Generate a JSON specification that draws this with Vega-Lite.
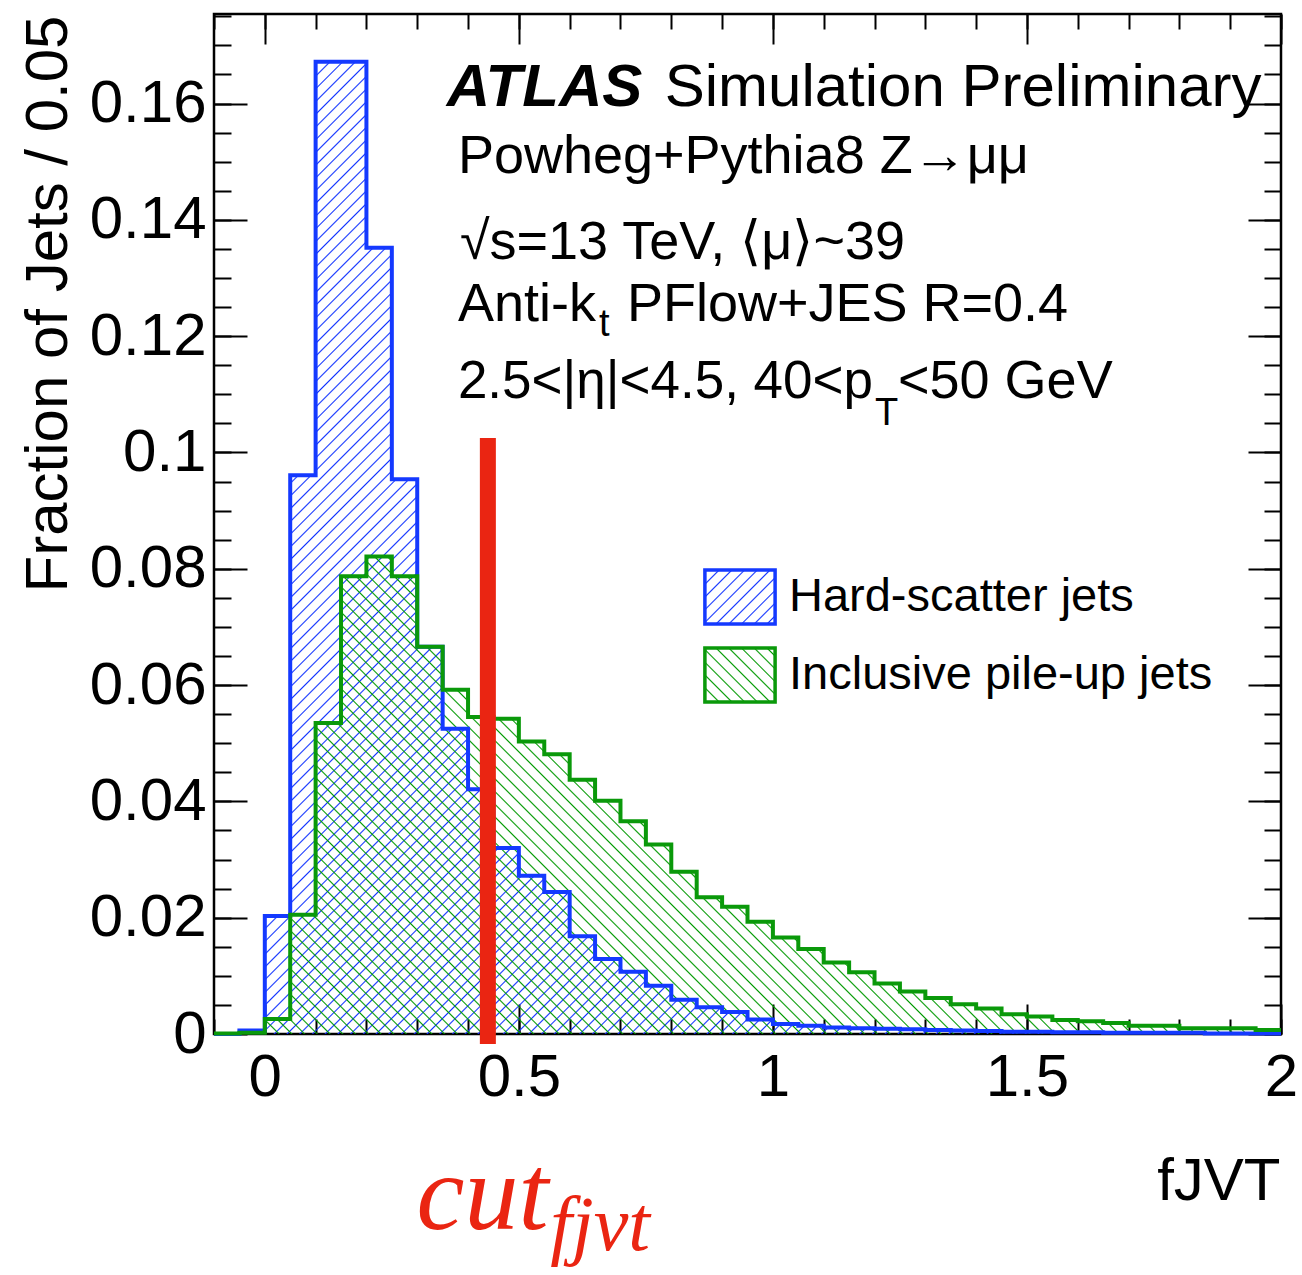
{
"$schema": "https://vega.github.io/schema/vega-lite/v6.json",
"autosize": {"type": "none"},
"padding": {"left": 214, "top": 14, "right": 21, "bottom": 241},
"width": 1067,
"height": 1020,
"background": "white",
"data": {"values": [
{"s":"hs","x":-0.1,"v":0},{"s":"hs","x":-0.05,"v":0.0006},{"s":"hs","x":0,"v":0.0203},{"s":"hs","x":0.05,"v":0.0961},{"s":"hs","x":0.1,"v":0.1672},{"s":"hs","x":0.15,"v":0.1672},{"s":"hs","x":0.2,"v":0.1352},{"s":"hs","x":0.25,"v":0.0954},{"s":"hs","x":0.3,"v":0.0666},{"s":"hs","x":0.35,"v":0.0525},{"s":"hs","x":0.4,"v":0.0421},{"s":"hs","x":0.45,"v":0.032},{"s":"hs","x":0.5,"v":0.0272},{"s":"hs","x":0.55,"v":0.0244},{"s":"hs","x":0.6,"v":0.0168},{"s":"hs","x":0.65,"v":0.0129},{"s":"hs","x":0.7,"v":0.0107},{"s":"hs","x":0.75,"v":0.0083},{"s":"hs","x":0.8,"v":0.0059},{"s":"hs","x":0.85,"v":0.0046},{"s":"hs","x":0.9,"v":0.0038},{"s":"hs","x":0.95,"v":0.0025},{"s":"hs","x":1,"v":0.0017},{"s":"hs","x":1.05,"v":0.0014},{"s":"hs","x":1.1,"v":0.0011},{"s":"hs","x":1.15,"v":0.001},{"s":"hs","x":1.2,"v":0.0009},{"s":"hs","x":1.25,"v":0.0008},{"s":"hs","x":1.3,"v":0.0007},{"s":"hs","x":1.35,"v":0.0006},{"s":"hs","x":1.4,"v":0.0005},{"s":"hs","x":1.45,"v":0.0004},{"s":"hs","x":1.5,"v":0.0004},{"s":"hs","x":1.55,"v":0.0003},{"s":"hs","x":1.6,"v":0.0003},{"s":"hs","x":1.65,"v":0.0002},{"s":"hs","x":1.7,"v":0.0002},{"s":"hs","x":1.75,"v":0.0002},{"s":"hs","x":1.8,"v":0.0002},{"s":"hs","x":1.85,"v":0.0001},{"s":"hs","x":1.9,"v":0.0001},{"s":"hs","x":1.95,"v":0.0001},{"s":"hs","x":2,"v":0.0001},
{"s":"pu","x":-0.1,"v":0.0001},{"s":"pu","x":-0.05,"v":0.0002},{"s":"pu","x":0,"v":0.0026},{"s":"pu","x":0.05,"v":0.0205},{"s":"pu","x":0.1,"v":0.0535},{"s":"pu","x":0.15,"v":0.0787},{"s":"pu","x":0.2,"v":0.0821},{"s":"pu","x":0.25,"v":0.0787},{"s":"pu","x":0.3,"v":0.0666},{"s":"pu","x":0.35,"v":0.0592},{"s":"pu","x":0.4,"v":0.0545},{"s":"pu","x":0.45,"v":0.0542},{"s":"pu","x":0.5,"v":0.0503},{"s":"pu","x":0.55,"v":0.0481},{"s":"pu","x":0.6,"v":0.0437},{"s":"pu","x":0.65,"v":0.0401},{"s":"pu","x":0.7,"v":0.0366},{"s":"pu","x":0.75,"v":0.0326},{"s":"pu","x":0.8,"v":0.0279},{"s":"pu","x":0.85,"v":0.0235},{"s":"pu","x":0.9,"v":0.0219},{"s":"pu","x":0.95,"v":0.0193},{"s":"pu","x":1,"v":0.0166},{"s":"pu","x":1.05,"v":0.0146},{"s":"pu","x":1.1,"v":0.0123},{"s":"pu","x":1.15,"v":0.0106},{"s":"pu","x":1.2,"v":0.0087},{"s":"pu","x":1.25,"v":0.0073},{"s":"pu","x":1.3,"v":0.0062},{"s":"pu","x":1.35,"v":0.0051},{"s":"pu","x":1.4,"v":0.0044},{"s":"pu","x":1.45,"v":0.0034},{"s":"pu","x":1.5,"v":0.003},{"s":"pu","x":1.55,"v":0.0024},{"s":"pu","x":1.6,"v":0.0022},{"s":"pu","x":1.65,"v":0.0019},{"s":"pu","x":1.7,"v":0.0014},{"s":"pu","x":1.75,"v":0.0014},{"s":"pu","x":1.8,"v":0.001},{"s":"pu","x":1.85,"v":0.001},{"s":"pu","x":1.9,"v":0.001},{"s":"pu","x":1.95,"v":0.0007},{"s":"pu","x":2,"v":0.0007}
]},
"resolve": {"axis": {"x": "independent", "y": "independent"}},
"layer": [
{"transform": [{"filter": "datum.s === 'hs'"}],
 "mark": {"type": "area", "interpolate": "step-after", "fill": {"gradient": "linear", "x1": 0, "y1": 0, "x2": 1.3035, "y2": 1.1878, "stops": [
{"offset":0,"color":"#13f0"},{"offset":0.0006,"color":"#13f"},{"offset":0.0012,"color":"#13f0"},{"offset":0.005,"color":"#13f0"},{"offset":0.0056,"color":"#13f"},{"offset":0.0062,"color":"#13f0"},
{"offset":0.01,"color":"#13f0"},{"offset":0.0106,"color":"#13f"},{"offset":0.0112,"color":"#13f0"},{"offset":0.015,"color":"#13f0"},{"offset":0.0156,"color":"#13f"},{"offset":0.0162,"color":"#13f0"},
{"offset":0.02,"color":"#13f0"},{"offset":0.0206,"color":"#13f"},{"offset":0.0212,"color":"#13f0"},{"offset":0.025,"color":"#13f0"},{"offset":0.0256,"color":"#13f"},{"offset":0.0262,"color":"#13f0"},
{"offset":0.03,"color":"#13f0"},{"offset":0.0306,"color":"#13f"},{"offset":0.0312,"color":"#13f0"},{"offset":0.035,"color":"#13f0"},{"offset":0.0356,"color":"#13f"},{"offset":0.0362,"color":"#13f0"},
{"offset":0.04,"color":"#13f0"},{"offset":0.0406,"color":"#13f"},{"offset":0.0412,"color":"#13f0"},{"offset":0.045,"color":"#13f0"},{"offset":0.0456,"color":"#13f"},{"offset":0.0462,"color":"#13f0"},
{"offset":0.05,"color":"#13f0"},{"offset":0.0506,"color":"#13f"},{"offset":0.0512,"color":"#13f0"},{"offset":0.055,"color":"#13f0"},{"offset":0.0556,"color":"#13f"},{"offset":0.0562,"color":"#13f0"},
{"offset":0.06,"color":"#13f0"},{"offset":0.0606,"color":"#13f"},{"offset":0.0612,"color":"#13f0"},{"offset":0.065,"color":"#13f0"},{"offset":0.0656,"color":"#13f"},{"offset":0.0662,"color":"#13f0"},
{"offset":0.07,"color":"#13f0"},{"offset":0.0706,"color":"#13f"},{"offset":0.0712,"color":"#13f0"},{"offset":0.075,"color":"#13f0"},{"offset":0.0756,"color":"#13f"},{"offset":0.0762,"color":"#13f0"},
{"offset":0.08,"color":"#13f0"},{"offset":0.0806,"color":"#13f"},{"offset":0.0812,"color":"#13f0"},{"offset":0.085,"color":"#13f0"},{"offset":0.0856,"color":"#13f"},{"offset":0.0862,"color":"#13f0"},
{"offset":0.09,"color":"#13f0"},{"offset":0.0906,"color":"#13f"},{"offset":0.0912,"color":"#13f0"},{"offset":0.095,"color":"#13f0"},{"offset":0.0956,"color":"#13f"},{"offset":0.0962,"color":"#13f0"},
{"offset":0.1,"color":"#13f0"},{"offset":0.1006,"color":"#13f"},{"offset":0.1012,"color":"#13f0"},{"offset":0.105,"color":"#13f0"},{"offset":0.1056,"color":"#13f"},{"offset":0.1062,"color":"#13f0"},
{"offset":0.11,"color":"#13f0"},{"offset":0.1106,"color":"#13f"},{"offset":0.1112,"color":"#13f0"},{"offset":0.115,"color":"#13f0"},{"offset":0.1156,"color":"#13f"},{"offset":0.1162,"color":"#13f0"},
{"offset":0.12,"color":"#13f0"},{"offset":0.1206,"color":"#13f"},{"offset":0.1212,"color":"#13f0"},{"offset":0.125,"color":"#13f0"},{"offset":0.1256,"color":"#13f"},{"offset":0.1262,"color":"#13f0"},
{"offset":0.13,"color":"#13f0"},{"offset":0.1306,"color":"#13f"},{"offset":0.1312,"color":"#13f0"},{"offset":0.135,"color":"#13f0"},{"offset":0.1356,"color":"#13f"},{"offset":0.1362,"color":"#13f0"},
{"offset":0.14,"color":"#13f0"},{"offset":0.1406,"color":"#13f"},{"offset":0.1412,"color":"#13f0"},{"offset":0.145,"color":"#13f0"},{"offset":0.1456,"color":"#13f"},{"offset":0.1462,"color":"#13f0"},
{"offset":0.15,"color":"#13f0"},{"offset":0.1506,"color":"#13f"},{"offset":0.1512,"color":"#13f0"},{"offset":0.155,"color":"#13f0"},{"offset":0.1556,"color":"#13f"},{"offset":0.1562,"color":"#13f0"},
{"offset":0.16,"color":"#13f0"},{"offset":0.1606,"color":"#13f"},{"offset":0.1612,"color":"#13f0"},{"offset":0.165,"color":"#13f0"},{"offset":0.1656,"color":"#13f"},{"offset":0.1662,"color":"#13f0"},
{"offset":0.17,"color":"#13f0"},{"offset":0.1706,"color":"#13f"},{"offset":0.1712,"color":"#13f0"},{"offset":0.175,"color":"#13f0"},{"offset":0.1756,"color":"#13f"},{"offset":0.1762,"color":"#13f0"},
{"offset":0.18,"color":"#13f0"},{"offset":0.1806,"color":"#13f"},{"offset":0.1812,"color":"#13f0"},{"offset":0.185,"color":"#13f0"},{"offset":0.1856,"color":"#13f"},{"offset":0.1862,"color":"#13f0"},
{"offset":0.19,"color":"#13f0"},{"offset":0.1906,"color":"#13f"},{"offset":0.1912,"color":"#13f0"},{"offset":0.195,"color":"#13f0"},{"offset":0.1956,"color":"#13f"},{"offset":0.1962,"color":"#13f0"},
{"offset":0.2,"color":"#13f0"},{"offset":0.2006,"color":"#13f"},{"offset":0.2012,"color":"#13f0"},{"offset":0.205,"color":"#13f0"},{"offset":0.2056,"color":"#13f"},{"offset":0.2062,"color":"#13f0"},
{"offset":0.21,"color":"#13f0"},{"offset":0.2106,"color":"#13f"},{"offset":0.2112,"color":"#13f0"},{"offset":0.215,"color":"#13f0"},{"offset":0.2156,"color":"#13f"},{"offset":0.2162,"color":"#13f0"},
{"offset":0.22,"color":"#13f0"},{"offset":0.2206,"color":"#13f"},{"offset":0.2212,"color":"#13f0"},{"offset":0.225,"color":"#13f0"},{"offset":0.2256,"color":"#13f"},{"offset":0.2262,"color":"#13f0"},
{"offset":0.23,"color":"#13f0"},{"offset":0.2306,"color":"#13f"},{"offset":0.2312,"color":"#13f0"},{"offset":0.235,"color":"#13f0"},{"offset":0.2356,"color":"#13f"},{"offset":0.2362,"color":"#13f0"},
{"offset":0.24,"color":"#13f0"},{"offset":0.2406,"color":"#13f"},{"offset":0.2412,"color":"#13f0"},{"offset":0.245,"color":"#13f0"},{"offset":0.2456,"color":"#13f"},{"offset":0.2462,"color":"#13f0"},
{"offset":0.25,"color":"#13f0"},{"offset":0.2506,"color":"#13f"},{"offset":0.2512,"color":"#13f0"},{"offset":0.255,"color":"#13f0"},{"offset":0.2556,"color":"#13f"},{"offset":0.2562,"color":"#13f0"},
{"offset":0.26,"color":"#13f0"},{"offset":0.2606,"color":"#13f"},{"offset":0.2612,"color":"#13f0"},{"offset":0.265,"color":"#13f0"},{"offset":0.2656,"color":"#13f"},{"offset":0.2662,"color":"#13f0"},
{"offset":0.27,"color":"#13f0"},{"offset":0.2706,"color":"#13f"},{"offset":0.2712,"color":"#13f0"},{"offset":0.275,"color":"#13f0"},{"offset":0.2756,"color":"#13f"},{"offset":0.2762,"color":"#13f0"},
{"offset":0.28,"color":"#13f0"},{"offset":0.2806,"color":"#13f"},{"offset":0.2812,"color":"#13f0"},{"offset":0.285,"color":"#13f0"},{"offset":0.2856,"color":"#13f"},{"offset":0.2862,"color":"#13f0"},
{"offset":0.29,"color":"#13f0"},{"offset":0.2906,"color":"#13f"},{"offset":0.2912,"color":"#13f0"},{"offset":0.295,"color":"#13f0"},{"offset":0.2956,"color":"#13f"},{"offset":0.2962,"color":"#13f0"},
{"offset":0.3,"color":"#13f0"},{"offset":0.3006,"color":"#13f"},{"offset":0.3012,"color":"#13f0"},{"offset":0.305,"color":"#13f0"},{"offset":0.3056,"color":"#13f"},{"offset":0.3062,"color":"#13f0"},
{"offset":0.31,"color":"#13f0"},{"offset":0.3106,"color":"#13f"},{"offset":0.3112,"color":"#13f0"},{"offset":0.315,"color":"#13f0"},{"offset":0.3156,"color":"#13f"},{"offset":0.3162,"color":"#13f0"},
{"offset":0.32,"color":"#13f0"},{"offset":0.3206,"color":"#13f"},{"offset":0.3212,"color":"#13f0"},{"offset":0.325,"color":"#13f0"},{"offset":0.3256,"color":"#13f"},{"offset":0.3262,"color":"#13f0"},
{"offset":0.33,"color":"#13f0"},{"offset":0.3306,"color":"#13f"},{"offset":0.3312,"color":"#13f0"},{"offset":0.335,"color":"#13f0"},{"offset":0.3356,"color":"#13f"},{"offset":0.3362,"color":"#13f0"},
{"offset":0.34,"color":"#13f0"},{"offset":0.3406,"color":"#13f"},{"offset":0.3412,"color":"#13f0"},{"offset":0.345,"color":"#13f0"},{"offset":0.3456,"color":"#13f"},{"offset":0.3462,"color":"#13f0"},
{"offset":0.35,"color":"#13f0"},{"offset":0.3506,"color":"#13f"},{"offset":0.3512,"color":"#13f0"},{"offset":0.355,"color":"#13f0"},{"offset":0.3556,"color":"#13f"},{"offset":0.3562,"color":"#13f0"},
{"offset":0.36,"color":"#13f0"},{"offset":0.3606,"color":"#13f"},{"offset":0.3612,"color":"#13f0"},{"offset":0.365,"color":"#13f0"},{"offset":0.3656,"color":"#13f"},{"offset":0.3662,"color":"#13f0"},
{"offset":0.37,"color":"#13f0"},{"offset":0.3706,"color":"#13f"},{"offset":0.3712,"color":"#13f0"},{"offset":0.375,"color":"#13f0"},{"offset":0.3756,"color":"#13f"},{"offset":0.3762,"color":"#13f0"},
{"offset":0.38,"color":"#13f0"},{"offset":0.3806,"color":"#13f"},{"offset":0.3812,"color":"#13f0"},{"offset":0.385,"color":"#13f0"},{"offset":0.3856,"color":"#13f"},{"offset":0.3862,"color":"#13f0"},
{"offset":0.39,"color":"#13f0"},{"offset":0.3906,"color":"#13f"},{"offset":0.3912,"color":"#13f0"},{"offset":0.395,"color":"#13f0"},{"offset":0.3956,"color":"#13f"},{"offset":0.3962,"color":"#13f0"},
{"offset":0.4,"color":"#13f0"},{"offset":0.4006,"color":"#13f"},{"offset":0.4012,"color":"#13f0"},{"offset":0.405,"color":"#13f0"},{"offset":0.4056,"color":"#13f"},{"offset":0.4062,"color":"#13f0"},
{"offset":0.41,"color":"#13f0"},{"offset":0.4106,"color":"#13f"},{"offset":0.4112,"color":"#13f0"},{"offset":0.415,"color":"#13f0"},{"offset":0.4156,"color":"#13f"},{"offset":0.4162,"color":"#13f0"},
{"offset":0.42,"color":"#13f0"},{"offset":0.4206,"color":"#13f"},{"offset":0.4212,"color":"#13f0"},{"offset":0.425,"color":"#13f0"},{"offset":0.4256,"color":"#13f"},{"offset":0.4262,"color":"#13f0"},
{"offset":0.43,"color":"#13f0"},{"offset":0.4306,"color":"#13f"},{"offset":0.4312,"color":"#13f0"},{"offset":0.435,"color":"#13f0"},{"offset":0.4356,"color":"#13f"},{"offset":0.4362,"color":"#13f0"},
{"offset":0.44,"color":"#13f0"},{"offset":0.4406,"color":"#13f"},{"offset":0.4412,"color":"#13f0"},{"offset":0.445,"color":"#13f0"},{"offset":0.4456,"color":"#13f"},{"offset":0.4462,"color":"#13f0"},
{"offset":0.45,"color":"#13f0"},{"offset":0.4506,"color":"#13f"},{"offset":0.4512,"color":"#13f0"},{"offset":0.455,"color":"#13f0"},{"offset":0.4556,"color":"#13f"},{"offset":0.4562,"color":"#13f0"},
{"offset":0.46,"color":"#13f0"},{"offset":0.4606,"color":"#13f"},{"offset":0.4612,"color":"#13f0"},{"offset":0.465,"color":"#13f0"},{"offset":0.4656,"color":"#13f"},{"offset":0.4662,"color":"#13f0"},
{"offset":0.47,"color":"#13f0"},{"offset":0.4706,"color":"#13f"},{"offset":0.4712,"color":"#13f0"},{"offset":0.475,"color":"#13f0"},{"offset":0.4756,"color":"#13f"},{"offset":0.4762,"color":"#13f0"},
{"offset":0.48,"color":"#13f0"},{"offset":0.4806,"color":"#13f"},{"offset":0.4812,"color":"#13f0"},{"offset":0.485,"color":"#13f0"},{"offset":0.4856,"color":"#13f"},{"offset":0.4862,"color":"#13f0"},
{"offset":0.49,"color":"#13f0"},{"offset":0.4906,"color":"#13f"},{"offset":0.4912,"color":"#13f0"},{"offset":0.495,"color":"#13f0"},{"offset":0.4956,"color":"#13f"},{"offset":0.4962,"color":"#13f0"},
{"offset":0.5,"color":"#13f0"},{"offset":0.5006,"color":"#13f"},{"offset":0.5012,"color":"#13f0"},{"offset":0.505,"color":"#13f0"},{"offset":0.5056,"color":"#13f"},{"offset":0.5062,"color":"#13f0"},
{"offset":0.51,"color":"#13f0"},{"offset":0.5106,"color":"#13f"},{"offset":0.5112,"color":"#13f0"},{"offset":0.515,"color":"#13f0"},{"offset":0.5156,"color":"#13f"},{"offset":0.5162,"color":"#13f0"},
{"offset":0.52,"color":"#13f0"},{"offset":0.5206,"color":"#13f"},{"offset":0.5212,"color":"#13f0"},{"offset":0.525,"color":"#13f0"},{"offset":0.5256,"color":"#13f"},{"offset":0.5262,"color":"#13f0"},
{"offset":0.53,"color":"#13f0"},{"offset":0.5306,"color":"#13f"},{"offset":0.5312,"color":"#13f0"},{"offset":0.535,"color":"#13f0"},{"offset":0.5356,"color":"#13f"},{"offset":0.5362,"color":"#13f0"},
{"offset":0.54,"color":"#13f0"},{"offset":0.5406,"color":"#13f"},{"offset":0.5412,"color":"#13f0"},{"offset":0.545,"color":"#13f0"},{"offset":0.5456,"color":"#13f"},{"offset":0.5462,"color":"#13f0"},
{"offset":0.55,"color":"#13f0"},{"offset":0.5506,"color":"#13f"},{"offset":0.5512,"color":"#13f0"},{"offset":0.555,"color":"#13f0"},{"offset":0.5556,"color":"#13f"},{"offset":0.5562,"color":"#13f0"},
{"offset":0.56,"color":"#13f0"},{"offset":0.5606,"color":"#13f"},{"offset":0.5612,"color":"#13f0"},{"offset":0.565,"color":"#13f0"},{"offset":0.5656,"color":"#13f"},{"offset":0.5662,"color":"#13f0"},
{"offset":0.57,"color":"#13f0"},{"offset":0.5706,"color":"#13f"},{"offset":0.5712,"color":"#13f0"},{"offset":0.575,"color":"#13f0"},{"offset":0.5756,"color":"#13f"},{"offset":0.5762,"color":"#13f0"},
{"offset":0.58,"color":"#13f0"},{"offset":0.5806,"color":"#13f"},{"offset":0.5812,"color":"#13f0"},{"offset":0.585,"color":"#13f0"},{"offset":0.5856,"color":"#13f"},{"offset":0.5862,"color":"#13f0"},
{"offset":0.59,"color":"#13f0"},{"offset":0.5906,"color":"#13f"},{"offset":0.5912,"color":"#13f0"},{"offset":0.595,"color":"#13f0"},{"offset":0.5956,"color":"#13f"},{"offset":0.5962,"color":"#13f0"},
{"offset":0.6,"color":"#13f0"},{"offset":0.6006,"color":"#13f"},{"offset":0.6012,"color":"#13f0"},{"offset":0.605,"color":"#13f0"},{"offset":0.6056,"color":"#13f"},{"offset":0.6062,"color":"#13f0"},
{"offset":0.61,"color":"#13f0"},{"offset":0.6106,"color":"#13f"},{"offset":0.6112,"color":"#13f0"},{"offset":0.615,"color":"#13f0"},{"offset":0.6156,"color":"#13f"},{"offset":0.6162,"color":"#13f0"},
{"offset":0.62,"color":"#13f0"},{"offset":0.6206,"color":"#13f"},{"offset":0.6212,"color":"#13f0"},{"offset":0.625,"color":"#13f0"},{"offset":0.6256,"color":"#13f"},{"offset":0.6262,"color":"#13f0"},
{"offset":0.63,"color":"#13f0"},{"offset":0.6306,"color":"#13f"},{"offset":0.6312,"color":"#13f0"},{"offset":0.635,"color":"#13f0"},{"offset":0.6356,"color":"#13f"},{"offset":0.6362,"color":"#13f0"},
{"offset":0.64,"color":"#13f0"},{"offset":0.6406,"color":"#13f"},{"offset":0.6412,"color":"#13f0"},{"offset":0.645,"color":"#13f0"},{"offset":0.6456,"color":"#13f"},{"offset":0.6462,"color":"#13f0"},
{"offset":0.65,"color":"#13f0"},{"offset":0.6506,"color":"#13f"},{"offset":0.6512,"color":"#13f0"},{"offset":0.655,"color":"#13f0"},{"offset":0.6556,"color":"#13f"},{"offset":0.6562,"color":"#13f0"},
{"offset":0.66,"color":"#13f0"},{"offset":0.6606,"color":"#13f"},{"offset":0.6612,"color":"#13f0"},{"offset":0.665,"color":"#13f0"},{"offset":0.6656,"color":"#13f"},{"offset":0.6662,"color":"#13f0"},
{"offset":0.67,"color":"#13f0"},{"offset":0.6706,"color":"#13f"},{"offset":0.6712,"color":"#13f0"},{"offset":0.675,"color":"#13f0"},{"offset":0.6756,"color":"#13f"},{"offset":0.6762,"color":"#13f0"},
{"offset":0.68,"color":"#13f0"},{"offset":0.6806,"color":"#13f"},{"offset":0.6812,"color":"#13f0"},{"offset":0.685,"color":"#13f0"},{"offset":0.6856,"color":"#13f"},{"offset":0.6862,"color":"#13f0"},
{"offset":0.69,"color":"#13f0"},{"offset":0.6906,"color":"#13f"},{"offset":0.6912,"color":"#13f0"},{"offset":0.695,"color":"#13f0"},{"offset":0.6956,"color":"#13f"},{"offset":0.6962,"color":"#13f0"},
{"offset":0.7,"color":"#13f0"},{"offset":0.7006,"color":"#13f"},{"offset":0.7012,"color":"#13f0"},{"offset":0.705,"color":"#13f0"},{"offset":0.7056,"color":"#13f"},{"offset":0.7062,"color":"#13f0"},
{"offset":0.71,"color":"#13f0"},{"offset":0.7106,"color":"#13f"},{"offset":0.7112,"color":"#13f0"},{"offset":0.715,"color":"#13f0"},{"offset":0.7156,"color":"#13f"},{"offset":0.7162,"color":"#13f0"},
{"offset":0.72,"color":"#13f0"},{"offset":0.7206,"color":"#13f"},{"offset":0.7212,"color":"#13f0"},{"offset":0.725,"color":"#13f0"},{"offset":0.7256,"color":"#13f"},{"offset":0.7262,"color":"#13f0"},
{"offset":0.73,"color":"#13f0"},{"offset":0.7306,"color":"#13f"},{"offset":0.7312,"color":"#13f0"},{"offset":0.735,"color":"#13f0"},{"offset":0.7356,"color":"#13f"},{"offset":0.7362,"color":"#13f0"},
{"offset":0.74,"color":"#13f0"},{"offset":0.7406,"color":"#13f"},{"offset":0.7412,"color":"#13f0"},{"offset":0.745,"color":"#13f0"},{"offset":0.7456,"color":"#13f"},{"offset":0.7462,"color":"#13f0"},
{"offset":0.75,"color":"#13f0"},{"offset":0.7506,"color":"#13f"},{"offset":0.7512,"color":"#13f0"},{"offset":0.755,"color":"#13f0"},{"offset":0.7556,"color":"#13f"},{"offset":0.7562,"color":"#13f0"},
{"offset":0.76,"color":"#13f0"},{"offset":0.7606,"color":"#13f"},{"offset":0.7612,"color":"#13f0"},{"offset":0.765,"color":"#13f0"},{"offset":0.7656,"color":"#13f"},{"offset":0.7662,"color":"#13f0"},
{"offset":0.77,"color":"#13f0"},{"offset":0.7706,"color":"#13f"},{"offset":0.7712,"color":"#13f0"},{"offset":0.775,"color":"#13f0"},{"offset":0.7756,"color":"#13f"},{"offset":0.7762,"color":"#13f0"},
{"offset":0.78,"color":"#13f0"},{"offset":0.7806,"color":"#13f"},{"offset":0.7812,"color":"#13f0"},{"offset":0.785,"color":"#13f0"},{"offset":0.7856,"color":"#13f"},{"offset":0.7862,"color":"#13f0"},
{"offset":0.79,"color":"#13f0"},{"offset":0.7906,"color":"#13f"},{"offset":0.7912,"color":"#13f0"},{"offset":0.795,"color":"#13f0"},{"offset":0.7956,"color":"#13f"},{"offset":0.7962,"color":"#13f0"},
{"offset":0.8,"color":"#13f0"},{"offset":0.8006,"color":"#13f"},{"offset":0.8012,"color":"#13f0"}
 ]}},
 "encoding": {
  "x": {"field": "x", "type": "quantitative", "scale": {"domain": [-0.1, 2], "nice": false, "zero": false},
        "axis": {"orient": "bottom", "values": [0, 0.5, 1, 1.5, 2], "format": "~g", "tickSize": -30, "labelPadding": 44, "labelBaseline": "top",
                 "title": "fJVT", "titleX": 1066, "titleY": 165, "titleAlign": "right", "titleBaseline": "alphabetic", "titleAnchor": "end"}},
  "y": {"field": "v", "type": "quantitative", "stack": null, "scale": {"domain": [0, 0.1754], "nice": false, "zero": false},
        "axis": {"orient": "left", "values": [0, 0.02, 0.04, 0.06, 0.08, 0.1, 0.12, 0.14, 0.16], "format": "~g", "tickSize": -33, "labelPadding": 41,
                 "title": "Fraction of Jets / 0.05", "titleX": -148, "titleY": 1, "titleAngle": -90, "titleAlign": "right", "titleBaseline": "alphabetic", "titleAnchor": "end"}}
 }},
{"transform": [{"filter": "datum.s === 'pu'"}],
 "mark": {"type": "area", "interpolate": "step-after", "fill": {"gradient": "linear", "x1": 0, "y1": 1, "x2": 1.9878, "y2": 0.1107, "stops": [
{"offset":0,"color":"#0900"},{"offset":0.0006,"color":"#090"},{"offset":0.0012,"color":"#0900"},{"offset":0.005,"color":"#0900"},{"offset":0.0056,"color":"#090"},{"offset":0.0062,"color":"#0900"},
{"offset":0.01,"color":"#0900"},{"offset":0.0106,"color":"#090"},{"offset":0.0112,"color":"#0900"},{"offset":0.015,"color":"#0900"},{"offset":0.0156,"color":"#090"},{"offset":0.0162,"color":"#0900"},
{"offset":0.02,"color":"#0900"},{"offset":0.0206,"color":"#090"},{"offset":0.0212,"color":"#0900"},{"offset":0.025,"color":"#0900"},{"offset":0.0256,"color":"#090"},{"offset":0.0262,"color":"#0900"},
{"offset":0.03,"color":"#0900"},{"offset":0.0306,"color":"#090"},{"offset":0.0312,"color":"#0900"},{"offset":0.035,"color":"#0900"},{"offset":0.0356,"color":"#090"},{"offset":0.0362,"color":"#0900"},
{"offset":0.04,"color":"#0900"},{"offset":0.0406,"color":"#090"},{"offset":0.0412,"color":"#0900"},{"offset":0.045,"color":"#0900"},{"offset":0.0456,"color":"#090"},{"offset":0.0462,"color":"#0900"},
{"offset":0.05,"color":"#0900"},{"offset":0.0506,"color":"#090"},{"offset":0.0512,"color":"#0900"},{"offset":0.055,"color":"#0900"},{"offset":0.0556,"color":"#090"},{"offset":0.0562,"color":"#0900"},
{"offset":0.06,"color":"#0900"},{"offset":0.0606,"color":"#090"},{"offset":0.0612,"color":"#0900"},{"offset":0.065,"color":"#0900"},{"offset":0.0656,"color":"#090"},{"offset":0.0662,"color":"#0900"},
{"offset":0.07,"color":"#0900"},{"offset":0.0706,"color":"#090"},{"offset":0.0712,"color":"#0900"},{"offset":0.075,"color":"#0900"},{"offset":0.0756,"color":"#090"},{"offset":0.0762,"color":"#0900"},
{"offset":0.08,"color":"#0900"},{"offset":0.0806,"color":"#090"},{"offset":0.0812,"color":"#0900"},{"offset":0.085,"color":"#0900"},{"offset":0.0856,"color":"#090"},{"offset":0.0862,"color":"#0900"},
{"offset":0.09,"color":"#0900"},{"offset":0.0906,"color":"#090"},{"offset":0.0912,"color":"#0900"},{"offset":0.095,"color":"#0900"},{"offset":0.0956,"color":"#090"},{"offset":0.0962,"color":"#0900"},
{"offset":0.1,"color":"#0900"},{"offset":0.1006,"color":"#090"},{"offset":0.1012,"color":"#0900"},{"offset":0.105,"color":"#0900"},{"offset":0.1056,"color":"#090"},{"offset":0.1062,"color":"#0900"},
{"offset":0.11,"color":"#0900"},{"offset":0.1106,"color":"#090"},{"offset":0.1112,"color":"#0900"},{"offset":0.115,"color":"#0900"},{"offset":0.1156,"color":"#090"},{"offset":0.1162,"color":"#0900"},
{"offset":0.12,"color":"#0900"},{"offset":0.1206,"color":"#090"},{"offset":0.1212,"color":"#0900"},{"offset":0.125,"color":"#0900"},{"offset":0.1256,"color":"#090"},{"offset":0.1262,"color":"#0900"},
{"offset":0.13,"color":"#0900"},{"offset":0.1306,"color":"#090"},{"offset":0.1312,"color":"#0900"},{"offset":0.135,"color":"#0900"},{"offset":0.1356,"color":"#090"},{"offset":0.1362,"color":"#0900"},
{"offset":0.14,"color":"#0900"},{"offset":0.1406,"color":"#090"},{"offset":0.1412,"color":"#0900"},{"offset":0.145,"color":"#0900"},{"offset":0.1456,"color":"#090"},{"offset":0.1462,"color":"#0900"},
{"offset":0.15,"color":"#0900"},{"offset":0.1506,"color":"#090"},{"offset":0.1512,"color":"#0900"},{"offset":0.155,"color":"#0900"},{"offset":0.1556,"color":"#090"},{"offset":0.1562,"color":"#0900"},
{"offset":0.16,"color":"#0900"},{"offset":0.1606,"color":"#090"},{"offset":0.1612,"color":"#0900"},{"offset":0.165,"color":"#0900"},{"offset":0.1656,"color":"#090"},{"offset":0.1662,"color":"#0900"},
{"offset":0.17,"color":"#0900"},{"offset":0.1706,"color":"#090"},{"offset":0.1712,"color":"#0900"},{"offset":0.175,"color":"#0900"},{"offset":0.1756,"color":"#090"},{"offset":0.1762,"color":"#0900"},
{"offset":0.18,"color":"#0900"},{"offset":0.1806,"color":"#090"},{"offset":0.1812,"color":"#0900"},{"offset":0.185,"color":"#0900"},{"offset":0.1856,"color":"#090"},{"offset":0.1862,"color":"#0900"},
{"offset":0.19,"color":"#0900"},{"offset":0.1906,"color":"#090"},{"offset":0.1912,"color":"#0900"},{"offset":0.195,"color":"#0900"},{"offset":0.1956,"color":"#090"},{"offset":0.1962,"color":"#0900"},
{"offset":0.2,"color":"#0900"},{"offset":0.2006,"color":"#090"},{"offset":0.2012,"color":"#0900"},{"offset":0.205,"color":"#0900"},{"offset":0.2056,"color":"#090"},{"offset":0.2062,"color":"#0900"},
{"offset":0.21,"color":"#0900"},{"offset":0.2106,"color":"#090"},{"offset":0.2112,"color":"#0900"},{"offset":0.215,"color":"#0900"},{"offset":0.2156,"color":"#090"},{"offset":0.2162,"color":"#0900"},
{"offset":0.22,"color":"#0900"},{"offset":0.2206,"color":"#090"},{"offset":0.2212,"color":"#0900"},{"offset":0.225,"color":"#0900"},{"offset":0.2256,"color":"#090"},{"offset":0.2262,"color":"#0900"},
{"offset":0.23,"color":"#0900"},{"offset":0.2306,"color":"#090"},{"offset":0.2312,"color":"#0900"},{"offset":0.235,"color":"#0900"},{"offset":0.2356,"color":"#090"},{"offset":0.2362,"color":"#0900"},
{"offset":0.24,"color":"#0900"},{"offset":0.2406,"color":"#090"},{"offset":0.2412,"color":"#0900"},{"offset":0.245,"color":"#0900"},{"offset":0.2456,"color":"#090"},{"offset":0.2462,"color":"#0900"},
{"offset":0.25,"color":"#0900"},{"offset":0.2506,"color":"#090"},{"offset":0.2512,"color":"#0900"},{"offset":0.255,"color":"#0900"},{"offset":0.2556,"color":"#090"},{"offset":0.2562,"color":"#0900"},
{"offset":0.26,"color":"#0900"},{"offset":0.2606,"color":"#090"},{"offset":0.2612,"color":"#0900"},{"offset":0.265,"color":"#0900"},{"offset":0.2656,"color":"#090"},{"offset":0.2662,"color":"#0900"},
{"offset":0.27,"color":"#0900"},{"offset":0.2706,"color":"#090"},{"offset":0.2712,"color":"#0900"},{"offset":0.275,"color":"#0900"},{"offset":0.2756,"color":"#090"},{"offset":0.2762,"color":"#0900"},
{"offset":0.28,"color":"#0900"},{"offset":0.2806,"color":"#090"},{"offset":0.2812,"color":"#0900"},{"offset":0.285,"color":"#0900"},{"offset":0.2856,"color":"#090"},{"offset":0.2862,"color":"#0900"},
{"offset":0.29,"color":"#0900"},{"offset":0.2906,"color":"#090"},{"offset":0.2912,"color":"#0900"},{"offset":0.295,"color":"#0900"},{"offset":0.2956,"color":"#090"},{"offset":0.2962,"color":"#0900"},
{"offset":0.3,"color":"#0900"},{"offset":0.3006,"color":"#090"},{"offset":0.3012,"color":"#0900"},{"offset":0.305,"color":"#0900"},{"offset":0.3056,"color":"#090"},{"offset":0.3062,"color":"#0900"},
{"offset":0.31,"color":"#0900"},{"offset":0.3106,"color":"#090"},{"offset":0.3112,"color":"#0900"},{"offset":0.315,"color":"#0900"},{"offset":0.3156,"color":"#090"},{"offset":0.3162,"color":"#0900"},
{"offset":0.32,"color":"#0900"},{"offset":0.3206,"color":"#090"},{"offset":0.3212,"color":"#0900"},{"offset":0.325,"color":"#0900"},{"offset":0.3256,"color":"#090"},{"offset":0.3262,"color":"#0900"},
{"offset":0.33,"color":"#0900"},{"offset":0.3306,"color":"#090"},{"offset":0.3312,"color":"#0900"},{"offset":0.335,"color":"#0900"},{"offset":0.3356,"color":"#090"},{"offset":0.3362,"color":"#0900"},
{"offset":0.34,"color":"#0900"},{"offset":0.3406,"color":"#090"},{"offset":0.3412,"color":"#0900"},{"offset":0.345,"color":"#0900"},{"offset":0.3456,"color":"#090"},{"offset":0.3462,"color":"#0900"},
{"offset":0.35,"color":"#0900"},{"offset":0.3506,"color":"#090"},{"offset":0.3512,"color":"#0900"},{"offset":0.355,"color":"#0900"},{"offset":0.3556,"color":"#090"},{"offset":0.3562,"color":"#0900"},
{"offset":0.36,"color":"#0900"},{"offset":0.3606,"color":"#090"},{"offset":0.3612,"color":"#0900"},{"offset":0.365,"color":"#0900"},{"offset":0.3656,"color":"#090"},{"offset":0.3662,"color":"#0900"},
{"offset":0.37,"color":"#0900"},{"offset":0.3706,"color":"#090"},{"offset":0.3712,"color":"#0900"},{"offset":0.375,"color":"#0900"},{"offset":0.3756,"color":"#090"},{"offset":0.3762,"color":"#0900"},
{"offset":0.38,"color":"#0900"},{"offset":0.3806,"color":"#090"},{"offset":0.3812,"color":"#0900"},{"offset":0.385,"color":"#0900"},{"offset":0.3856,"color":"#090"},{"offset":0.3862,"color":"#0900"},
{"offset":0.39,"color":"#0900"},{"offset":0.3906,"color":"#090"},{"offset":0.3912,"color":"#0900"},{"offset":0.395,"color":"#0900"},{"offset":0.3956,"color":"#090"},{"offset":0.3962,"color":"#0900"},
{"offset":0.4,"color":"#0900"},{"offset":0.4006,"color":"#090"},{"offset":0.4012,"color":"#0900"},{"offset":0.405,"color":"#0900"},{"offset":0.4056,"color":"#090"},{"offset":0.4062,"color":"#0900"},
{"offset":0.41,"color":"#0900"},{"offset":0.4106,"color":"#090"},{"offset":0.4112,"color":"#0900"},{"offset":0.415,"color":"#0900"},{"offset":0.4156,"color":"#090"},{"offset":0.4162,"color":"#0900"},
{"offset":0.42,"color":"#0900"},{"offset":0.4206,"color":"#090"},{"offset":0.4212,"color":"#0900"},{"offset":0.425,"color":"#0900"},{"offset":0.4256,"color":"#090"},{"offset":0.4262,"color":"#0900"},
{"offset":0.43,"color":"#0900"},{"offset":0.4306,"color":"#090"},{"offset":0.4312,"color":"#0900"},{"offset":0.435,"color":"#0900"},{"offset":0.4356,"color":"#090"},{"offset":0.4362,"color":"#0900"},
{"offset":0.44,"color":"#0900"},{"offset":0.4406,"color":"#090"},{"offset":0.4412,"color":"#0900"},{"offset":0.445,"color":"#0900"},{"offset":0.4456,"color":"#090"},{"offset":0.4462,"color":"#0900"},
{"offset":0.45,"color":"#0900"},{"offset":0.4506,"color":"#090"},{"offset":0.4512,"color":"#0900"},{"offset":0.455,"color":"#0900"},{"offset":0.4556,"color":"#090"},{"offset":0.4562,"color":"#0900"},
{"offset":0.46,"color":"#0900"},{"offset":0.4606,"color":"#090"},{"offset":0.4612,"color":"#0900"},{"offset":0.465,"color":"#0900"},{"offset":0.4656,"color":"#090"},{"offset":0.4662,"color":"#0900"},
{"offset":0.47,"color":"#0900"},{"offset":0.4706,"color":"#090"},{"offset":0.4712,"color":"#0900"},{"offset":0.475,"color":"#0900"},{"offset":0.4756,"color":"#090"},{"offset":0.4762,"color":"#0900"},
{"offset":0.48,"color":"#0900"},{"offset":0.4806,"color":"#090"},{"offset":0.4812,"color":"#0900"},{"offset":0.485,"color":"#0900"},{"offset":0.4856,"color":"#090"},{"offset":0.4862,"color":"#0900"},
{"offset":0.49,"color":"#0900"},{"offset":0.4906,"color":"#090"},{"offset":0.4912,"color":"#0900"},{"offset":0.495,"color":"#0900"},{"offset":0.4956,"color":"#090"},{"offset":0.4962,"color":"#0900"},
{"offset":0.5,"color":"#0900"},{"offset":0.5006,"color":"#090"},{"offset":0.5012,"color":"#0900"},{"offset":0.505,"color":"#0900"},{"offset":0.5056,"color":"#090"},{"offset":0.5062,"color":"#0900"},
{"offset":0.51,"color":"#0900"},{"offset":0.5106,"color":"#090"},{"offset":0.5112,"color":"#0900"},{"offset":0.515,"color":"#0900"},{"offset":0.5156,"color":"#090"},{"offset":0.5162,"color":"#0900"},
{"offset":0.52,"color":"#0900"},{"offset":0.5206,"color":"#090"},{"offset":0.5212,"color":"#0900"},{"offset":0.525,"color":"#0900"},{"offset":0.5256,"color":"#090"},{"offset":0.5262,"color":"#0900"},
{"offset":0.53,"color":"#0900"},{"offset":0.5306,"color":"#090"},{"offset":0.5312,"color":"#0900"},{"offset":0.535,"color":"#0900"},{"offset":0.5356,"color":"#090"},{"offset":0.5362,"color":"#0900"},
{"offset":0.54,"color":"#0900"},{"offset":0.5406,"color":"#090"},{"offset":0.5412,"color":"#0900"},{"offset":0.545,"color":"#0900"},{"offset":0.5456,"color":"#090"},{"offset":0.5462,"color":"#0900"},
{"offset":0.55,"color":"#0900"},{"offset":0.5506,"color":"#090"},{"offset":0.5512,"color":"#0900"},{"offset":0.555,"color":"#0900"},{"offset":0.5556,"color":"#090"},{"offset":0.5562,"color":"#0900"},
{"offset":0.56,"color":"#0900"},{"offset":0.5606,"color":"#090"},{"offset":0.5612,"color":"#0900"},{"offset":0.565,"color":"#0900"},{"offset":0.5656,"color":"#090"},{"offset":0.5662,"color":"#0900"},
{"offset":0.57,"color":"#0900"},{"offset":0.5706,"color":"#090"},{"offset":0.5712,"color":"#0900"},{"offset":0.575,"color":"#0900"},{"offset":0.5756,"color":"#090"},{"offset":0.5762,"color":"#0900"},
{"offset":0.58,"color":"#0900"},{"offset":0.5806,"color":"#090"},{"offset":0.5812,"color":"#0900"},{"offset":0.585,"color":"#0900"},{"offset":0.5856,"color":"#090"},{"offset":0.5862,"color":"#0900"},
{"offset":0.59,"color":"#0900"},{"offset":0.5906,"color":"#090"},{"offset":0.5912,"color":"#0900"},{"offset":0.595,"color":"#0900"},{"offset":0.5956,"color":"#090"},{"offset":0.5962,"color":"#0900"},
{"offset":0.6,"color":"#0900"},{"offset":0.6006,"color":"#090"},{"offset":0.6012,"color":"#0900"},{"offset":0.605,"color":"#0900"},{"offset":0.6056,"color":"#090"},{"offset":0.6062,"color":"#0900"}
 ]}},
 "encoding": {
  "x": {"field": "x", "type": "quantitative", "scale": {"domain": [-0.1, 2], "nice": false, "zero": false},
        "axis": {"orient": "bottom", "values": [-0.1, 0, 0.1, 0.2, 0.3, 0.4, 0.5, 0.6, 0.7, 0.8, 0.9, 1, 1.1, 1.2, 1.3, 1.4, 1.5, 1.6, 1.7, 1.8, 1.9, 2], "tickSize": -15, "labels": false, "title": null}},
  "y": {"field": "v", "type": "quantitative", "stack": null, "scale": {"domain": [0, 0.1754], "nice": false, "zero": false},
        "axis": {"orient": "left", "values": [0,0.005,0.01,0.015,0.02,0.025,0.03,0.035,0.04,0.045,0.05,0.055,0.06,0.065,0.07,0.075,0.08,0.085,0.09,0.095,0.1,0.105,0.11,0.115,0.12,0.125,0.13,0.135,0.14,0.145,0.15,0.155,0.16,0.165,0.17,0.175], "tickSize": -17, "labels": false, "title": null}}
 }},
{"transform": [{"filter": "datum.s === 'hs'"}],
 "mark": {"type": "line", "interpolate": "step-after", "strokeWidth": 4},
 "encoding": {
  "x": {"field": "x", "type": "quantitative", "scale": {"domain": [-0.1, 2], "nice": false, "zero": false},
        "axis": {"orient": "top", "values": [0, 0.5, 1, 1.5, 2], "tickSize": -30, "labels": false, "title": null}},
  "y": {"field": "v", "type": "quantitative", "scale": {"domain": [0, 0.1754], "nice": false, "zero": false},
        "axis": {"orient": "right", "values": [0, 0.02, 0.04, 0.06, 0.08, 0.1, 0.12, 0.14, 0.16], "tickSize": -33, "labels": false, "title": null}},
  "color": {"field": "s", "type": "nominal", "scale": {"domain": ["hs", "pu"], "range": ["#1439ff", "#0a990a"]},
            "legend": {"orient": "none", "legendX": 497, "legendY": 554, "title": null, "padding": 0,
                       "symbolType": "M-1.3,-1H1.3V1H-1.3Z", "symbolSize": 2916, "symbolStrokeWidth": 3.5,
                       "labelFont": "Liberation Sans", "labelFontSize": 47, "labelColor": "black", "labelOffset": 20, "rowPadding": 10, "labelLimit": 1000,
                       "labelExpr": "datum.value === 'hs' ? 'Hard-scatter jets' : 'Inclusive pile-up jets'",
                       "encode": {"symbols": {"update": {
                         "fill": [{"test": "datum.value === 'hs'", "value": {"gradient": "linear", "x1": 0, "y1": 0, "x2": 1.1394, "y2": 0.8762, "stops": [
                           {"offset":0,"color":"#13f0"},{"offset":0.012,"color":"#13f"},{"offset":0.024,"color":"#13f0"},{"offset":0.1,"color":"#13f0"},{"offset":0.112,"color":"#13f"},{"offset":0.124,"color":"#13f0"},
                           {"offset":0.2,"color":"#13f0"},{"offset":0.212,"color":"#13f"},{"offset":0.224,"color":"#13f0"},{"offset":0.3,"color":"#13f0"},{"offset":0.312,"color":"#13f"},{"offset":0.324,"color":"#13f0"},
                           {"offset":0.4,"color":"#13f0"},{"offset":0.412,"color":"#13f"},{"offset":0.424,"color":"#13f0"},{"offset":0.5,"color":"#13f0"},{"offset":0.512,"color":"#13f"},{"offset":0.524,"color":"#13f0"},
                           {"offset":0.6,"color":"#13f0"},{"offset":0.612,"color":"#13f"},{"offset":0.624,"color":"#13f0"},{"offset":0.7,"color":"#13f0"},{"offset":0.712,"color":"#13f"},{"offset":0.724,"color":"#13f0"},
                           {"offset":0.8,"color":"#13f0"},{"offset":0.812,"color":"#13f"},{"offset":0.824,"color":"#13f0"},{"offset":0.9,"color":"#13f0"},{"offset":0.912,"color":"#13f"},{"offset":0.924,"color":"#13f0"}]}},
                                  {"value": {"gradient": "linear", "x1": 0, "y1": 1, "x2": 1.1394, "y2": 0.1238, "stops": [
                           {"offset":0,"color":"#0900"},{"offset":0.012,"color":"#090"},{"offset":0.024,"color":"#0900"},{"offset":0.1,"color":"#0900"},{"offset":0.112,"color":"#090"},{"offset":0.124,"color":"#0900"},
                           {"offset":0.2,"color":"#0900"},{"offset":0.212,"color":"#090"},{"offset":0.224,"color":"#0900"},{"offset":0.3,"color":"#0900"},{"offset":0.312,"color":"#090"},{"offset":0.324,"color":"#0900"},
                           {"offset":0.4,"color":"#0900"},{"offset":0.412,"color":"#090"},{"offset":0.424,"color":"#0900"},{"offset":0.5,"color":"#0900"},{"offset":0.512,"color":"#090"},{"offset":0.524,"color":"#0900"},
                           {"offset":0.6,"color":"#0900"},{"offset":0.612,"color":"#090"},{"offset":0.624,"color":"#0900"},{"offset":0.7,"color":"#0900"},{"offset":0.712,"color":"#090"},{"offset":0.724,"color":"#0900"},
                           {"offset":0.8,"color":"#0900"},{"offset":0.812,"color":"#090"},{"offset":0.824,"color":"#0900"},{"offset":0.9,"color":"#0900"},{"offset":0.912,"color":"#090"},{"offset":0.924,"color":"#0900"}]}}],
                         "fillOpacity": {"value": 1}, "stroke": {"scale": "color", "field": "value"}, "strokeWidth": {"value": 3.5}, "opacity": {"value": 1}}}}}}
 }},
{"transform": [{"filter": "datum.s === 'pu'"}],
 "mark": {"type": "line", "interpolate": "step-after", "strokeWidth": 4},
 "encoding": {
  "x": {"field": "x", "type": "quantitative", "scale": {"domain": [-0.1, 2], "nice": false, "zero": false},
        "axis": {"orient": "top", "values": [-0.1, 0, 0.1, 0.2, 0.3, 0.4, 0.5, 0.6, 0.7, 0.8, 0.9, 1, 1.1, 1.2, 1.3, 1.4, 1.5, 1.6, 1.7, 1.8, 1.9, 2], "tickSize": -15, "labels": false, "title": null}},
  "y": {"field": "v", "type": "quantitative", "scale": {"domain": [0, 0.1754], "nice": false, "zero": false},
        "axis": {"orient": "right", "values": [0,0.005,0.01,0.015,0.02,0.025,0.03,0.035,0.04,0.045,0.05,0.055,0.06,0.065,0.07,0.075,0.08,0.085,0.09,0.095,0.1,0.105,0.11,0.115,0.12,0.125,0.13,0.135,0.14,0.145,0.15,0.155,0.16,0.165,0.17,0.175], "tickSize": -17, "labels": false, "title": null}},
  "color": {"field": "s", "type": "nominal", "scale": {"domain": ["hs", "pu"], "range": ["#1439ff", "#0a990a"]}, "legend": null}
 }},
{"data": {"values": [{}]},
 "mark": {"type": "rule", "color": "#ea2512", "strokeWidth": 16, "strokeCap": "butt"},
 "encoding": {"x": {"datum": 0.439, "type": "quantitative", "axis": null}, "y": {"datum": 0.1025, "type": "quantitative", "axis": null}, "y2": {"datum": -0.0017}}},
{"data": {"values": [{}]},
 "mark": {"type": "text", "align": "left", "baseline": "alphabetic", "font": "Liberation Sans", "fontSize": 60, "fontStyle": "italic", "fontWeight": "bold", "color": "black"},
 "encoding": {"x": {"datum": 0.358, "type": "quantitative", "axis": null}, "y": {"datum": 0.1595, "type": "quantitative", "axis": null}, "text": {"value": "ATLAS"}}},
{"data": {"values": [{}]},
 "mark": {"type": "text", "align": "left", "baseline": "alphabetic", "font": "Liberation Sans", "fontSize": 60, "color": "black"},
 "encoding": {"x": {"datum": 0.787, "type": "quantitative", "axis": null}, "y": {"datum": 0.1595, "type": "quantitative", "axis": null}, "text": {"value": "Simulation Preliminary"}}},
{"data": {"values": [{}]},
 "mark": {"type": "text", "align": "left", "baseline": "alphabetic", "font": "Liberation Sans", "fontSize": 54, "color": "black"},
 "encoding": {"x": {"datum": 0.38, "type": "quantitative", "axis": null}, "y": {"datum": 0.1481, "type": "quantitative", "axis": null}, "text": {"value": "Powheg+Pythia8 Z→μμ"}}},
{"data": {"values": [{}]},
 "mark": {"type": "text", "align": "left", "baseline": "alphabetic", "font": "Liberation Sans", "fontSize": 54, "color": "black"},
 "encoding": {"x": {"datum": 0.384, "type": "quantitative", "axis": null}, "y": {"datum": 0.1332, "type": "quantitative", "axis": null}, "text": {"value": "√s=13 TeV, ⟨μ⟩~39"}}},
{"data": {"values": [{}]},
 "mark": {"type": "text", "align": "left", "baseline": "alphabetic", "font": "Liberation Sans", "fontSize": 54, "color": "black"},
 "encoding": {"x": {"datum": 0.38, "type": "quantitative", "axis": null}, "y": {"datum": 0.1226, "type": "quantitative", "axis": null}, "text": {"value": "Anti-k"}}},
{"data": {"values": [{}]},
 "mark": {"type": "text", "align": "left", "baseline": "alphabetic", "font": "Liberation Sans", "fontSize": 38, "color": "black"},
 "encoding": {"x": {"datum": 0.6575, "type": "quantitative", "axis": null}, "y": {"datum": 0.1201, "type": "quantitative", "axis": null}, "text": {"value": "t"}}},
{"data": {"values": [{}]},
 "mark": {"type": "text", "align": "left", "baseline": "alphabetic", "font": "Liberation Sans", "fontSize": 54, "color": "black"},
 "encoding": {"x": {"datum": 0.7126, "type": "quantitative", "axis": null}, "y": {"datum": 0.1226, "type": "quantitative", "axis": null}, "text": {"value": "PFlow+JES R=0.4"}}},
{"data": {"values": [{}]},
 "mark": {"type": "text", "align": "left", "baseline": "alphabetic", "font": "Liberation Sans", "fontSize": 53, "color": "black"},
 "encoding": {"x": {"datum": 0.38, "type": "quantitative", "axis": null}, "y": {"datum": 0.1094, "type": "quantitative", "axis": null}, "text": {"value": "2.5<|η|<4.5, 40<p"}}},
{"data": {"values": [{}]},
 "mark": {"type": "text", "align": "left", "baseline": "alphabetic", "font": "Liberation Sans", "fontSize": 38, "color": "black"},
 "encoding": {"x": {"datum": 1.2007, "type": "quantitative", "axis": null}, "y": {"datum": 0.1048, "type": "quantitative", "axis": null}, "text": {"value": "T"}}},
{"data": {"values": [{}]},
 "mark": {"type": "text", "align": "left", "baseline": "alphabetic", "font": "Liberation Sans", "fontSize": 54, "color": "black"},
 "encoding": {"x": {"datum": 1.2462, "type": "quantitative", "axis": null}, "y": {"datum": 0.1094, "type": "quantitative", "axis": null}, "text": {"value": "<50 GeV"}}},
{"data": {"values": [{}]},
 "mark": {"type": "text", "align": "left", "baseline": "alphabetic", "font": "Liberation Serif", "fontSize": 108, "fontStyle": "italic", "color": "#ea2512"},
 "encoding": {"x": {"datum": 0.2986, "type": "quantitative", "axis": null}, "y": {"datum": -0.0336, "type": "quantitative", "axis": null}, "text": {"value": "cut"}}},
{"data": {"values": [{}]},
 "mark": {"type": "text", "align": "left", "baseline": "alphabetic", "font": "Liberation Serif", "fontSize": 78, "fontStyle": "italic", "color": "#ea2512"},
 "encoding": {"x": {"datum": 0.562, "type": "quantitative", "axis": null}, "y": {"datum": -0.0371, "type": "quantitative", "axis": null}, "text": {"value": "fjvt"}}}
],
"config": {
 "view": {"stroke": "black", "strokeWidth": 2.5},
 "axis": {"labelFont": "Liberation Sans", "labelFontSize": 60, "labelColor": "black", "titleFont": "Liberation Sans", "titleFontSize": 60, "titleFontWeight": "normal", "titleColor": "black",
          "tickColor": "black", "tickWidth": 2, "grid": false, "domain": false, "labelFlush": false, "labelOverlap": false, "labelBound": false}
}
}
